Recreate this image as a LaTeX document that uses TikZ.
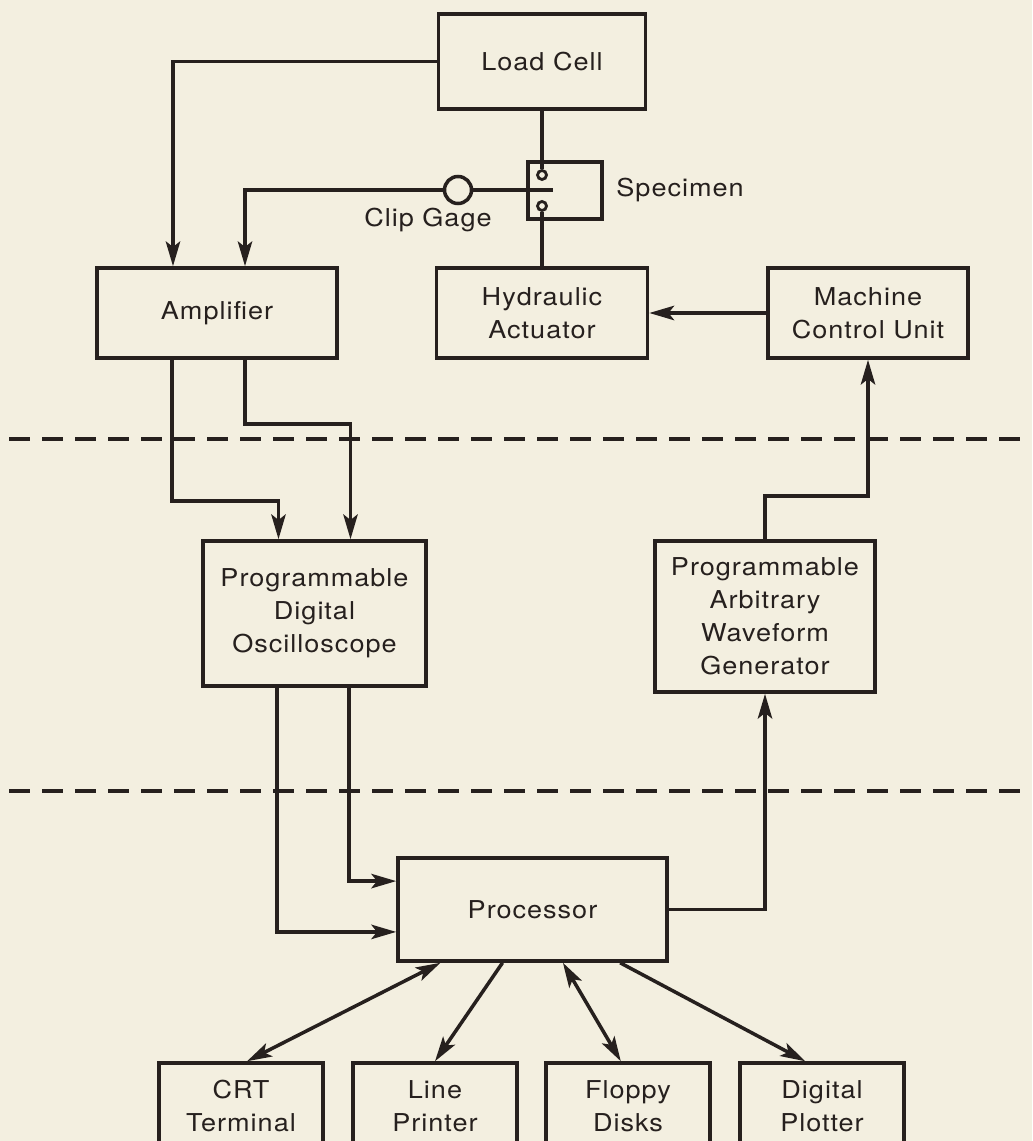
\documentclass[tikz,border=0pt]{standalone}
\usepackage{fontspec}
\setmainfont[FakeStretch=1.1,LetterSpace=4]{TeX Gyre Heros}
\usetikzlibrary{arrows.meta}
\definecolor{paper}{RGB}{243,239,224}
\definecolor{ink}{RGB}{38,32,30}
\begin{document}
\begin{tikzpicture}[x=0.025cm,y=-0.025cm,line width=2.5pt,color=ink,
>={Stealth[length=0.62cm,width=0.36cm,inset=0.14cm]},
font=\fontsize{17.5pt}{23.5pt}\selectfont,
box/.style={draw,align=center,inner sep=0pt},
pin/.style={draw,circle,line width=2pt,inner sep=0pt,minimum size=0.225cm},
sepline/.style={line width=2.2pt,dash pattern=on 0.525cm off 0.3cm}]
\useasboundingbox (0,0) rectangle (1032,1141);
\clip (0,0) rectangle (1032,1141);
\fill[paper] (0,0) rectangle (1032,1141);
\draw[sepline] (9,439)--(1032,439);
\draw[sepline] (9,791)--(1032,791);
\node[box,minimum width=5.175cm,minimum height=2.375cm] (load) at (542,61.5) {Load Cell};
\node[box,minimum width=1.85cm,minimum height=1.425cm] (spec) at (565,190.5) {};
\node[anchor=west] (speclabel) at (610,190) {Specimen};
\node[pin] (upper) at (542,175) {};
\node[pin] (lower) at (542,206) {};
\node[draw,circle,inner sep=0pt,minimum size=0.675cm] (gage) at (458,190) {};
\node (gagelabel) at (428,220) {Clip Gage};
\coordinate (knife) at (553,190);
\node[box,minimum width=6cm,minimum height=2.25cm] (amp) at (217,313) {Amplifier};
\node[box,minimum width=5.275cm,minimum height=2.25cm] (hyd) at (542,313) {Hydraulic\\Actuator};
\node[box,minimum width=5cm,minimum height=2.25cm] (mcu) at (868,313) {Machine\\Control Unit};
\node[box,minimum width=5.575cm,minimum height=3.625cm] (osc) at (314.5,613.5) {Programmable\\Digital\\Oscilloscope};
\node[box,minimum width=5.5cm,minimum height=3.775cm] (awg) at (765,616.5) {Programmable\\Arbitrary\\Waveform\\Generator};
\node[box,minimum width=6.725cm,minimum height=2.575cm] (proc) at (532.5,909.5) {Processor};
\node[box,minimum width=4.1cm,minimum height=2.15cm] (crt) at (241,1106) {CRT\\Terminal};
\node[box,minimum width=4.1cm,minimum height=2.15cm] (lp) at (435,1106) {Line\\Printer};
\node[box,minimum width=4.1cm,minimum height=2.15cm] (fd) at (628,1106) {Floppy\\Disks};
\node[box,minimum width=4.1cm,minimum height=2.15cm] (dp) at (822,1106) {Digital\\Plotter};
\draw[->] (load.west) -| ([xshift=-1.1cm]amp.north);
\draw (load.south)--(upper);
\draw (lower)--(hyd.north);
\draw (gage.east)--(knife);
\draw[->] (gage.west) -| ([xshift=0.7cm]amp.north);
\draw[->] (mcu.west)--(hyd.east);
\draw[->] ([xshift=-1.125cm]amp.south)--++(0,141) -| ([xshift=-0.9cm]osc.north);
\draw[->] ([xshift=0.7cm]amp.south)--++(0,64) -| ([xshift=0.9cm]osc.north);
\draw[->] ([xshift=-0.94cm]osc.south) |- ([yshift=-0.56cm]proc.west);
\draw[->] ([xshift=0.86cm]osc.south) |- ([yshift=0.71cm]proc.west);
\draw[->] (proc.east) -| (awg.south);
\draw[->] (awg.north)--++(0,-43) -| (mcu.south);
\draw[<->] ([xshift=-2.3cm]proc.south)--([xshift=0.15cm]crt.north);
\draw[->] ([xshift=-0.75cm]proc.south)--(lp.north);
\draw[<->] ([xshift=0.76cm]proc.south)--([xshift=-0.18cm]fd.north);
\draw[->] ([xshift=2.19cm]proc.south)--([xshift=-0.42cm]dp.north);
\end{tikzpicture}
\end{document}
